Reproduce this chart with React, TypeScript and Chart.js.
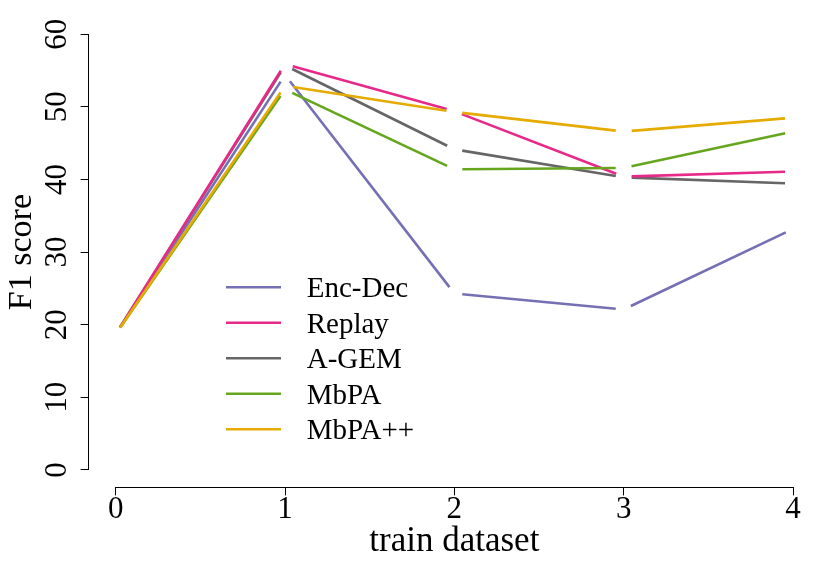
import React, { useEffect, useRef } from "react";
import { Chart, registerables } from "chart.js";

Chart.register(...registerables);

// ---- data ----
const trainDatasets = [0, 1, 2, 3, 4];
const xTickValues = [0, 1, 2, 3, 4];
const yTickValues = [0, 10, 20, 30, 40, 50, 60];

const seriesNames = ["Enc-Dec", "Replay", "A-GEM", "MbPA", "MbPA++"];
const encDec = [18.7, 54.4, 24.3, 22.1, 33.2];
const replay = [18.7, 55.9, 49.4, 40.4, 41.1];
const aGem = [18.7, 55.7, 44.15, 40.3, 39.45];
const mbpa = [18.7, 52.4, 41.4, 41.6, 46.6];
const mbpaPP = [18.7, 52.9, 49.3, 46.6, 48.5];
const seriesColors = ["#7570B3", "#E7298A", "#666666", "#66A61E", "#E6AB02"];
// order in which the series lines are stroked (later = on top)
const drawOrder = [2, 0, 1, 3, 4];

const SERIF = "'Liberation Serif', 'Times New Roman', serif";
const LINE_W = 2.6;
const GAP = 8;

const gapLines = {
  id: "gapLines",
  afterDatasetsDraw(chart: any) {
    const ctx = chart.ctx;
    ctx.save();
    drawOrder.forEach((i) => {
      const ds: any = chart.data.datasets[i];
      const meta = chart.getDatasetMeta(i);
      const pts = meta.data;
      ctx.strokeStyle = ds.borderColor;
      ctx.lineWidth = LINE_W;
      ctx.lineCap = "butt";
      for (let k = 0; k < pts.length - 1; k++) {
        const a = pts[k];
        const b = pts[k + 1];
        const dx = b.x - a.x;
        const dy = b.y - a.y;
        const len = Math.hypot(dx, dy);
        const ux = dx / len;
        const uy = dy / len;
        ctx.beginPath();
        ctx.moveTo(a.x + ux * GAP, a.y + uy * GAP);
        ctx.lineTo(b.x - ux * GAP, b.y - uy * GAP);
        ctx.stroke();
      }
    });
    ctx.restore();
  },
};

const axisLines = {
  id: "axisLines",
  afterDraw(chart: any) {
    const ctx = chart.ctx;
    const xs = chart.scales.x;
    const ys = chart.scales.y;
    const area = chart.chartArea;
    ctx.save();
    ctx.strokeStyle = "#000";
    ctx.lineWidth = 1;
    ctx.beginPath();
    const yb = Math.round(area.bottom) + 0.5;
    ctx.moveTo(xs.getPixelForValue(xTickValues[0]), yb);
    ctx.lineTo(xs.getPixelForValue(xTickValues[xTickValues.length - 1]), yb);
    const xl = Math.round(area.left) - 0.5;
    ctx.moveTo(xl, ys.getPixelForValue(yTickValues[0]));
    ctx.lineTo(xl, ys.getPixelForValue(yTickValues[yTickValues.length - 1]));
    ctx.stroke();
    ctx.restore();
  },
};

const legendBox = {
  id: "legendBox",
  afterDraw(chart: any) {
    const ctx = chart.ctx;
    ctx.save();
    ctx.font = `29px ${SERIF}`;
    ctx.textBaseline = "alphabetic";
    ctx.textAlign = "left";
    chart.data.datasets.forEach((ds: any, i: number) => {
      const y = 287.3 + i * 35.5;
      ctx.strokeStyle = ds.borderColor;
      ctx.lineWidth = LINE_W;
      ctx.beginPath();
      ctx.moveTo(226, y);
      ctx.lineTo(281, y);
      ctx.stroke();
      ctx.fillStyle = "#000";
      ctx.fillText(ds.label, 306.7, y + 9.7);
    });
    ctx.restore();
  },
};

export default function App() {
  const ref = useRef<HTMLCanvasElement>(null);
  useEffect(() => {
    if (!ref.current) return;
    const seriesValues = [encDec, replay, aGem, mbpa, mbpaPP];
    const chart = new Chart(ref.current, {
      type: "line",
      data: {
        datasets: seriesNames.map((name, i) => ({
          label: name,
          data: trainDatasets.map((x, k) => ({ x, y: seriesValues[i][k] })),
          borderColor: seriesColors[i],
          backgroundColor: seriesColors[i],
          showLine: false,
          pointRadius: 0,
        })),
      },
      options: {
        animation: false,
        responsive: false,
        events: [],
        layout: { padding: { top: 16.8, right: 1.9, bottom: 0, left: 0 } },
        plugins: { legend: { display: false }, tooltip: { enabled: false } },
        scales: {
          x: {
            type: "linear",
            min: -0.16,
            max: 4.16,
            afterBuildTicks: (s: any) => {
              s.ticks = xTickValues.map((v) => ({ value: v }));
            },
            afterFit: (s: any) => {
              s.height = 88.6;
              s.paddingLeft = 0;
              s.paddingRight = 0;
            },
            grid: {
              drawOnChartArea: false,
              drawTicks: true,
              tickLength: 8,
              color: "#000",
              lineWidth: 1,
            },
            border: { display: false },
            ticks: {
              color: "#000",
              padding: -1.2,
              maxRotation: 0,
              minRotation: 0,
              font: { family: SERIF, size: 31, lineHeight: 1 },
              callback: (v: any) => String(v),
            },
            title: {
              display: true,
              text: "train dataset",
              color: "#000",
              font: { family: SERIF, size: 35, lineHeight: 1 },
              padding: { top: 0, bottom: 16.8 },
            },
          },
          y: {
            type: "linear",
            min: -2.4,
            max: 62.4,
            afterBuildTicks: (s: any) => {
              s.ticks = yTickValues.map((v) => ({ value: v }));
            },
            afterFit: (s: any) => {
              s.width = 88.6;
              s.paddingTop = 0;
              s.paddingBottom = 0;
            },
            grid: {
              drawOnChartArea: false,
              drawTicks: true,
              tickLength: 8,
              color: "#000",
              lineWidth: 1,
            },
            border: { display: false },
            ticks: {
              color: "#000",
              padding: 6.8,
              minRotation: 90,
              maxRotation: 90,
              crossAlign: "center",
              font: { family: SERIF, size: 31, lineHeight: 1 },
              callback: (v: any) => String(v),
            },
            title: {
              display: true,
              text: "F1 score",
              color: "#000",
              font: { family: SERIF, size: 34, lineHeight: 1 },
              padding: { top: 5, bottom: 0 },
            },
          },
        },
      },
      plugins: [gapLines, axisLines, legendBox],
    });
    return () => chart.destroy();
  }, []);
  return (
    <div style={{ position: "absolute", left: 0, top: 0, width: 822, height: 576, background: "#fff" }}>
      <canvas ref={ref} width={822} height={576} style={{ display: "block" }} />
    </div>
  );
}
